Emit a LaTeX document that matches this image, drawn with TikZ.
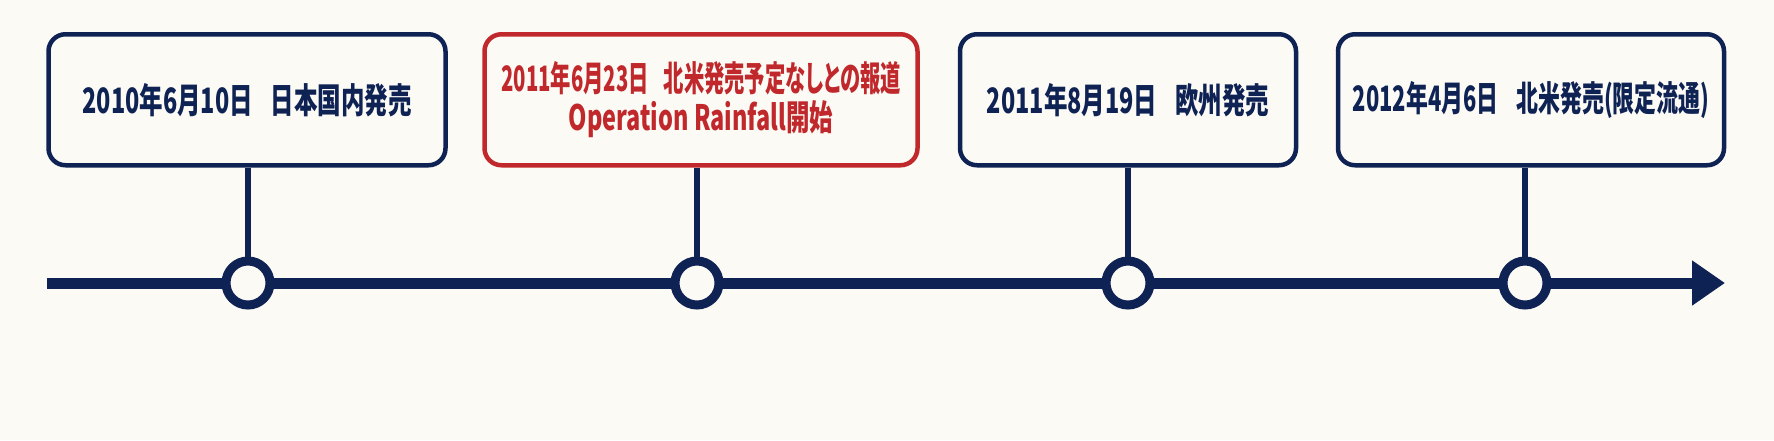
\documentclass[tikz,border=0pt]{standalone}
\usepackage{fontspec}
\usepackage{xcolor}
\newfontfamily\jpfont[FakeStretch=0.67, RawFeature=+palt]{Noto Sans CJK JP}
\newfontfamily\jpnarrow[FakeStretch=0.58, RawFeature=+palt]{Noto Sans CJK JP}
\newfontfamily\jpmid[FakeStretch=0.625, RawFeature=+palt]{Noto Sans CJK JP}
\definecolor{navy}{HTML}{0F2254}
\definecolor{alertred}{HTML}{C0282B}
\definecolor{paper}{HTML}{FBFAF5}
\usetikzlibrary{arrows.meta, positioning}

\begin{document}
\begin{tikzpicture}[x=1pt, y=-1pt, node distance=89pt, thick]
    \tikzstyle{event}=[rectangle,
                       draw=navy,
                       line width=4.5pt,
                       rounded corners=17pt,
                       fill=paper,
                       minimum height=131pt,
                       inner xsep=2pt,
                       text=navy,
                       align=center,
                       font=\jpfont\bfseries\fontsize{35}{39}\selectfont]
    \tikzstyle{narrow}=[event, font=\jpmid\bfseries\fontsize{35}{39}\selectfont]
    \tikzstyle{alert}=[event, draw=alertred, text=alertred,
                       font=\jpnarrow\bfseries\fontsize{35}{39}\selectfont]
    \tikzstyle{dot}=[circle, draw=navy, line width=9pt, fill=paper,
                      minimum size=44pt, inner sep=0pt]
    \tikzstyle{stem}=[navy, line width=5.5pt]
    \fill[paper] (0,0) rectangle (1774,440);
    \useasboundingbox (0,0) rectangle (1774,440);
    % time axis
    \coordinate (start) at (47,283);
    \coordinate (end) at (1725,283);
    \draw[navy, line width=11pt, -{Triangle[length=33pt, width=43pt]}] (start) -- (end);
    % events on the axis
    \node[dot] (t1) at (248,283) {};
    \node[dot] (t2) at (697,283) {};
    \node[dot] (t3) at (1128,283) {};
    \node[dot] (t4) at (1525,283) {};
    \node[event, minimum width=397pt] (jp) [above=of t1, xshift=-1pt] {2010年6月10日\hspace{18pt}日本国内発売};
    \node[alert, minimum width=433pt] (news) [above=of t2, xshift=4pt] {2011年6月23日\hspace{15pt}北米発売予定なしとの報道\\{\jpfont Operation Rainfall開始}};
    \node[event, minimum width=336pt] (eu) [above=of t3] {2011年8月19日\hspace{18pt}欧州発売};
    \node[narrow, minimum width=386pt] (na) [above=of t4, xshift=6pt] {2012年4月6日\hspace{18pt}北米発売(限定流通)};
    \draw[stem] (jp.south -| t1) -- (t1);
    \draw[stem] (news.south -| t2) -- (t2);
    \draw[stem] (eu) -- (t3);
    \draw[stem] (na.south -| t4) -- (t4);
\end{tikzpicture}
\end{document}
